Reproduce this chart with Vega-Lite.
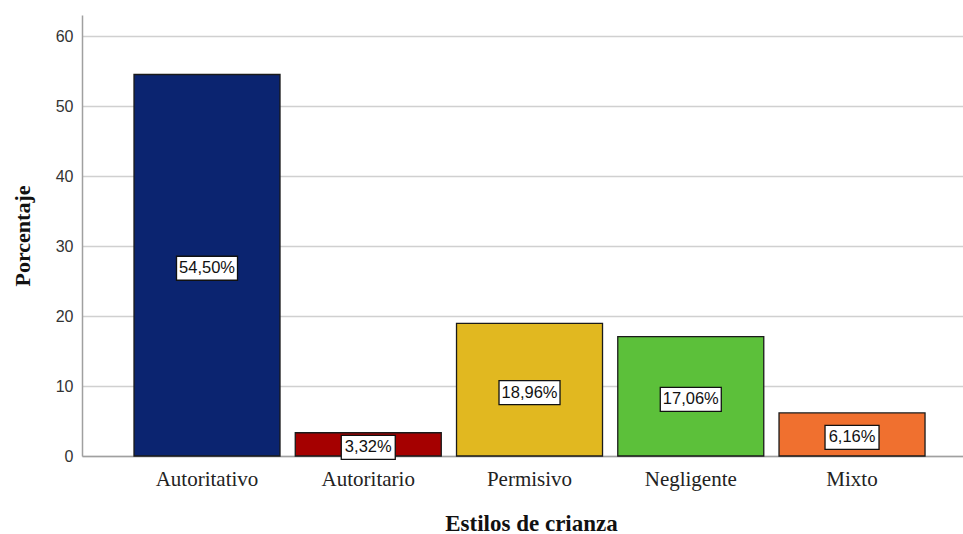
{
  "$schema": "https://vega.github.io/schema/vega-lite/v6.json",
  "width": 881,
  "height": 441,
  "autosize": "none",
  "padding": {"left": 82, "top": 15, "right": 0, "bottom": 78},
  "background": "white",
  "config": {"view": {"stroke": null}},
  "data": {
    "values": [
      {"estilo": "Autoritativo", "v": 54.50, "lbl": "54,50%"},
      {"estilo": "Autoritario", "v": 3.32, "lbl": "3,32%"},
      {"estilo": "Permisivo", "v": 18.96, "lbl": "18,96%"},
      {"estilo": "Negligente", "v": 17.06, "lbl": "17,06%"},
      {"estilo": "Mixto", "v": 6.16, "lbl": "6,16%"}
    ]
  },
  "encoding": {
    "x": {
      "field": "estilo",
      "type": "nominal",
      "sort": null,
      "scale": {"paddingInner": 0.0946, "paddingOuter": 0.279, "align": 0.578},
      "axis": {
        "title": "Estilos de crianza",
        "titleFont": "Liberation Serif",
        "titleFontSize": 23,
        "titleFontWeight": "bold",
        "titleColor": "#111111",
        "titleX": 449,
        "titleY": 74,
        "titleBaseline": "alphabetic",
        "titleAlign": "center",
        "labelFont": "Liberation Serif",
        "labelFontSize": 21,
        "labelColor": "#222222",
        "labelAngle": 0,
        "labelBaseline": "alphabetic",
        "labelPadding": 29,
        "ticks": false,
        "tickSize": 0,
        "domainColor": "#a0a0a0",
        "domainWidth": 1.5,
        "grid": false
      }
    }
  },
  "layer": [
    {
      "mark": {"type": "bar", "stroke": "#1a1a1a", "strokeWidth": 1.3},
      "encoding": {
        "y": {
          "field": "v",
          "type": "quantitative",
          "scale": {"domain": [0, 63], "nice": false},
          "axis": {
            "title": "Porcentaje",
            "titleFont": "Liberation Serif",
            "titleFontSize": 22,
            "titleFontWeight": "bold",
            "titleColor": "#111111",
            "titleX": -60,
            "titleY": 220.5,
            "titleAngle": -90,
            "titleAlign": "center",
            "titleBaseline": "middle",
            "values": [0, 10, 20, 30, 40, 50, 60],
            "labelFont": "Liberation Sans",
            "labelFontSize": 16,
            "labelColor": "#333333",
            "labelPadding": 9,
            "ticks": false,
            "tickSize": 0,
            "domainColor": "#a0a0a0",
            "domainWidth": 1.5,
            "grid": true,
            "gridColor": "#d0d0d0",
            "gridWidth": 1.5
          }
        },
        "fill": {
          "field": "estilo",
          "type": "nominal",
          "sort": null,
          "scale": {
            "domain": ["Autoritativo", "Autoritario", "Permisivo", "Negligente", "Mixto"],
            "range": ["#0b2470", "#a50000", "#e1b820", "#5cc03a", "#f0702f"]
          },
          "legend": null
        }
      }
    },
    {
      "encoding": {
        "y": {
          "field": "v",
          "type": "quantitative",
          "scale": {"domain": [0, 126], "nice": false},
          "axis": null
        }
      },
      "layer": [
        {
          "mark": {"type": "point", "filled": true, "fill": "white", "stroke": "#111111", "strokeWidth": 1.3, "opacity": 1, "yOffset": 3},
          "encoding": {
            "shape": {
              "condition": {"test": "datum.v < 10", "value": "M-1,-0.444L1,-0.444L1,0.444L-1,0.444Z"},
              "value": "M-1,-0.393L1,-0.393L1,0.393L-1,0.393Z"
            },
            "size": {
              "condition": {"test": "datum.v < 10", "value": 2916},
              "value": 3721
            }
          }
        },
        {
          "mark": {"type": "text", "font": "Liberation Sans", "fontSize": 16.5, "color": "#111111", "baseline": "middle", "align": "center", "yOffset": 3},
          "encoding": {
            "text": {"field": "lbl", "type": "nominal"}
          }
        }
      ]
    }
  ],
  "resolve": {"scale": {"y": "independent"}}
}
